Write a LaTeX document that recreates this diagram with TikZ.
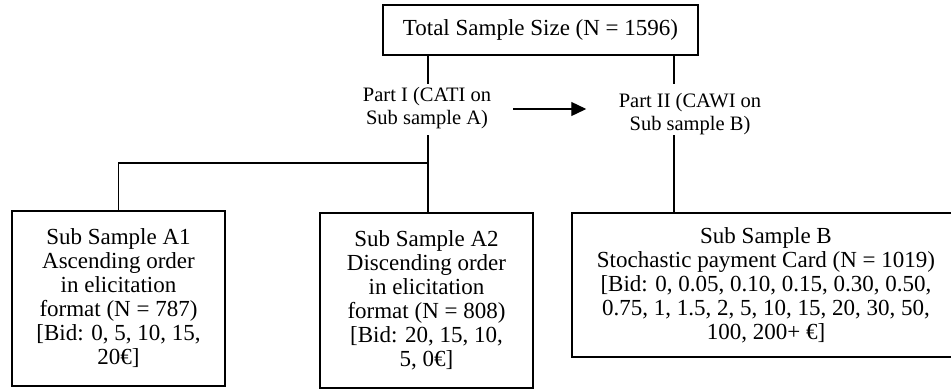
\documentclass[tikz,border=0pt]{standalone}
\usepackage{fontspec}
\setmainfont{Liberation Serif}
\usetikzlibrary{arrows.meta}
\begin{document}
\begin{tikzpicture}[x=1pt,y=-1pt,
  box/.style={draw, line width=1.5pt, inner sep=0pt, align=center, font=\fontsize{23}{24}\selectfont},
  lbl/.style={inner sep=0pt, align=center, font=\fontsize{20.5}{23.5}\selectfont},
  conn/.style={line width=1.3pt}]
\clip (0,0) rectangle (951,389);
\node[box, minimum width=315, minimum height=50] (top) at (540.5,30) {Total Sample Size (N = 1596)};
\node[lbl] (p1) at (427,108) {Part I (CATI on\\Sub sample A)};
\node[lbl] (p2) at (690,114) {Part II (CAWI on\\Sub sample B)};
\node[box, minimum width=213, minimum height=175] (a1) at (118.5,298.5)
  {Sub Sample A1\\Ascending order\\in elicitation\\format (N = 787)\\{}[Bid: 0, 5, 10, 15,\\20€]};
\node[box, minimum width=213, minimum height=175] (a2) at (426.5,300.5)
  {Sub Sample A2\\Discending order\\in elicitation\\format (N = 808)\\{}[Bid: 20, 15, 10,\\5, 0€]};
\node[box, minimum width=388, minimum height=144] (b) at (766,285)
  {Sub Sample B\\Stochastic payment Card (N = 1019)\\{}[Bid: 0, 0.05, 0.10, 0.15, 0.30, 0.50,\\0.75, 1, 1.5, 2, 5, 10, 15, 20, 30, 50,\\100, 200+ €]};
\coordinate (pIa) at (428,84);
\coordinate (pIb) at (428,135);
\coordinate (pIIa) at (674,84);
\coordinate (pIIb) at (674,135);
\coordinate (j) at (428,163);
\draw[conn] (top.south -| pIa) -- (pIa);
\draw[conn] (top.south -| pIIa) -- (pIIa);
\draw[conn] (pIb) -- (pIb |- a2.north);
\draw[conn] (j) -| (a1.north);
\draw[conn] (pIIb) -- (pIIb |- b.north);
\draw[conn, -{Triangle[length=15pt,width=14pt]}] ([xshift=22pt,yshift=-1pt]p1.east) -- ++(73,0);
\end{tikzpicture}
\end{document}
